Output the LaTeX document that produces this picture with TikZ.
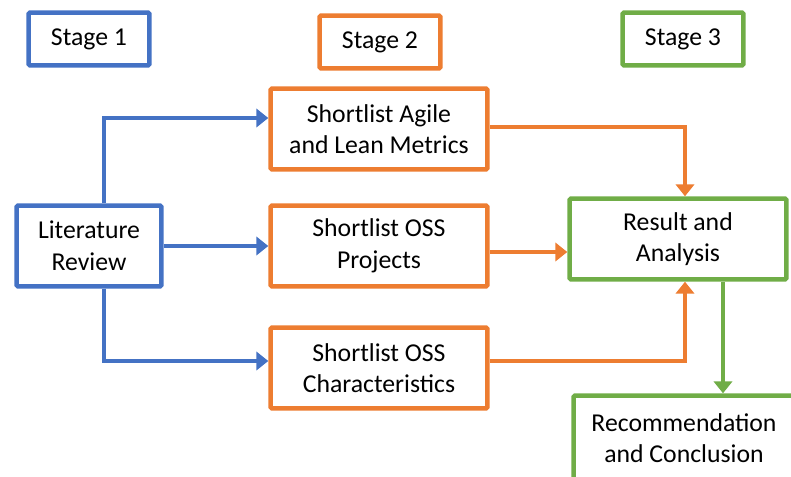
\documentclass[tikz,border=0pt]{standalone}
\usepackage{fontspec}
\setmainfont{Carlito}
\usetikzlibrary{arrows.meta,calc}
\definecolor{StageBlue}{RGB}{68,114,196}
\definecolor{StageOrange}{RGB}{237,125,49}
\definecolor{StageGreen}{RGB}{112,173,71}

\begin{document}
\begin{tikzpicture}[x=0.025cm, y=-0.025cm,
  box/.style={draw, line width=0.115cm, rounded corners=1pt, fill=white, align=center, inner sep=0pt, font=\fontsize{18.3}{22.5}\selectfont},
  stagebox/.style={box, minimum width=3.02cm, minimum height=1.32cm},
  taskbox/.style={box, minimum width=5.42cm, minimum height=2.02cm},
  flow/.style={line width=0.11cm, -{Triangle[length=0.3cm, width=0.46cm]}}]
  \path[use as bounding box, clip] (0,0) rectangle (791,476);

  % Stage headers
  \node[stagebox, draw=StageBlue] (stage1) at (89,39) {Stage 1};
  \node[stagebox, draw=StageOrange] (stage2) at (380,42) {Stage 2};
  \node[stagebox, draw=StageGreen] (stage3) at (683,39) {Stage 3};

  % Stage 1
  \node[box, draw=StageBlue, minimum width=3.62cm, minimum height=2.02cm] (litreview) at (89,246) {Literature\\Review};

  % Stage 2
  \node[taskbox, draw=StageOrange] (metrics) at (379,129) {Shortlist Agile\\and Lean Metrics};
  \node[taskbox, draw=StageOrange] (projects) at (379,246) {Shortlist OSS\\Projects};
  \node[taskbox, draw=StageOrange] (characteristics) at (379,368) {Shortlist OSS\\Characteristics};

  % Stage 3
  \node[taskbox, draw=StageGreen] (result) at (678,239) {Result and\\Analysis};
  \node[box, draw=StageGreen, minimum width=5.52cm, minimum height=2.12cm] (recommend) at (684,438) {Recommendation\\and Conclusion};

  % Literature review to shortlists
  \draw[flow, StageBlue] ($(litreview.north)+(15,0)$) |- ($(metrics.west)+(0,-11)$);
  \draw[flow, StageBlue] (litreview.east) -- (projects.west);
  \draw[flow, StageBlue] ($(litreview.south)+(15,0)$) |- ($(characteristics.west)+(0,-7)$);

  % Shortlists to result
  \draw[flow, StageOrange] ($(metrics.east)+(0,-2)$) -| ($(result.north)+(7,0)$);
  \draw[flow, StageOrange] ($(projects.east)+(0,6)$) coordinate (p) -- (p -| result.west);
  \draw[flow, StageOrange] ($(characteristics.east)+(0,-7)$) -| ($(result.south)+(7,0)$);

  % Result to recommendation
  \draw[flow, StageGreen] ($(result.south)+(45,0)$) -- ($(recommend.north)+(39,0)$);
\end{tikzpicture}
\end{document}
